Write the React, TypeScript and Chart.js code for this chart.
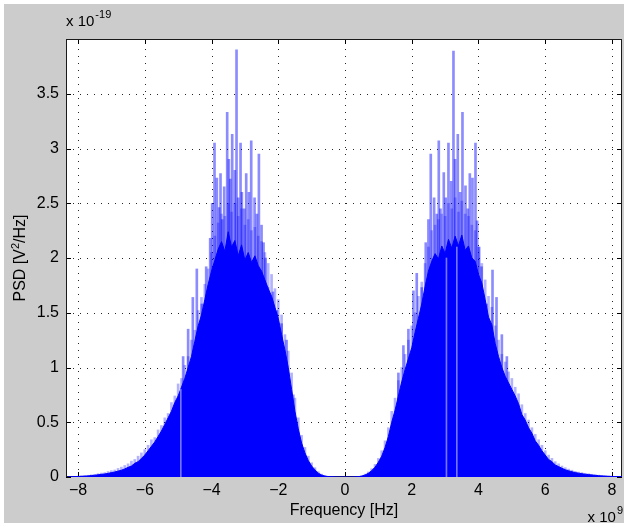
import { useEffect, useRef } from "react";
import { Chart, registerables } from "chart.js";
Chart.register(...registerables);

// Frequency grid (x 10^9 Hz)
const freqs = [
  -8.3, -8.2, -8.1, -8.0, -7.9, -7.8, -7.7, -7.6, -7.5, -7.4,
  -7.3, -7.2, -7.1, -7.0, -6.9, -6.8, -6.7, -6.6, -6.5, -6.4,
  -6.3, -6.2, -6.1, -6.0, -5.9, -5.8, -5.7, -5.6, -5.5, -5.4,
  -5.3, -5.2, -5.1, -5.0, -4.9, -4.8, -4.7, -4.6, -4.5, -4.4,
  -4.3, -4.2, -4.1, -4.0, -3.9, -3.8, -3.7, -3.6, -3.5, -3.4,
  -3.3, -3.2, -3.1, -3.0, -2.9, -2.8, -2.7, -2.6, -2.5, -2.4,
  -2.3, -2.2, -2.1, -2.0, -1.9, -1.8, -1.7, -1.6, -1.5, -1.4,
  -1.3, -1.2, -1.1, -1.0, -0.9, -0.8, -0.7, -0.6, -0.5, -0.4,
  -0.3, -0.2, -0.1, 0.0, 0.1, 0.2, 0.3, 0.4, 0.5, 0.6,
  0.7, 0.8, 0.9, 1.0, 1.1, 1.2, 1.3, 1.4, 1.5, 1.6,
  1.7, 1.8, 1.9, 2.0, 2.1, 2.2, 2.3, 2.4, 2.5, 2.6,
  2.7, 2.8, 2.9, 3.0, 3.1, 3.2, 3.3, 3.4, 3.5, 3.6,
  3.7, 3.8, 3.9, 4.0, 4.1, 4.2, 4.3, 4.4, 4.5, 4.6,
  4.7, 4.8, 4.9, 5.0, 5.1, 5.2, 5.3, 5.4, 5.5, 5.6,
  5.7, 5.8, 5.9, 6.0, 6.1, 6.2, 6.3, 6.4, 6.5, 6.6,
  6.7, 6.8, 6.9, 7.0, 7.1, 7.2, 7.3, 7.4, 7.5, 7.6,
  7.7, 7.8, 7.9, 8.0, 8.1, 8.2, 8.3,
];

// Dense (solid) part of the PSD, x 10^-19 V^2/Hz
const coreValues = [
  0.000, 0.002, 0.003, 0.005, 0.006, 0.008, 0.010, 0.013, 0.016, 0.020,
  0.024, 0.028, 0.033, 0.040, 0.046, 0.054, 0.062, 0.074, 0.088, 0.100,
  0.125, 0.140, 0.170, 0.200, 0.240, 0.280, 0.320, 0.370, 0.420, 0.480,
  0.540, 0.600, 0.680, 0.740, 0.820, 0.900, 1.000, 1.100, 1.240, 1.380,
  1.480, 1.620, 1.760, 1.880, 1.980, 2.080, 2.150, 2.060, 2.240, 2.100,
  2.160, 2.020, 2.120, 1.980, 2.050, 1.960, 2.020, 1.930, 1.880, 1.800,
  1.720, 1.650, 1.550, 1.450, 1.300, 1.160, 1.000, 0.800, 0.600, 0.440,
  0.310, 0.220, 0.150, 0.100, 0.065, 0.035, 0.018, 0.008, 0.004, 0.002,
  0.001, 0, 0, 0, 0, 0, 0.001, 0.003, 0.008, 0.018,
  0.034, 0.058, 0.090, 0.135, 0.190, 0.270, 0.370, 0.500, 0.610, 0.740,
  0.870, 0.980, 1.080, 1.180, 1.320, 1.450, 1.580, 1.740, 1.880, 1.970,
  2.040, 1.990, 2.110, 2.040, 2.170, 2.090, 2.200, 2.110, 2.210, 2.070,
  2.110, 2.000, 1.970, 1.850, 1.770, 1.620, 1.460, 1.390, 1.220, 1.100,
  1.000, 0.920, 0.860, 0.800, 0.740, 0.670, 0.570, 0.520, 0.450, 0.400,
  0.330, 0.290, 0.240, 0.200, 0.160, 0.140, 0.110, 0.095, 0.080, 0.066,
  0.057, 0.048, 0.040, 0.035, 0.030, 0.025, 0.022, 0.018, 0.015, 0.012,
  0.010, 0.008, 0.006, 0.005, 0.004, 0.003, 0.002,
];

// Ragged upper fringe of the PSD on the same grid
const peakValues = [
  0.002, 0.004, 0.006, 0.008, 0.011, 0.013, 0.016, 0.020, 0.024, 0.030,
  0.036, 0.040, 0.050, 0.058, 0.064, 0.078, 0.090, 0.105, 0.120, 0.145,
  0.160, 0.190, 0.220, 0.250, 0.290, 0.340, 0.360, 0.430, 0.470, 0.540,
  0.580, 0.680, 0.740, 0.850, 0.900, 1.020, 1.100, 1.250, 1.340, 1.520,
  1.640, 1.760, 1.900, 2.050, 2.200, 2.320, 2.400, 2.380, 2.500, 2.420,
  2.500, 2.380, 2.450, 2.300, 2.350, 2.250, 2.280, 2.200, 2.150, 2.050,
  1.950, 1.850, 1.720, 1.620, 1.480, 1.300, 1.150, 0.950, 0.720, 0.540,
  0.380, 0.270, 0.190, 0.130, 0.085, 0.048, 0.026, 0.012, 0.006, 0.003,
  0.001, 0, 0, 0, 0, 0, 0.002, 0.005, 0.012, 0.026,
  0.046, 0.075, 0.115, 0.170, 0.240, 0.330, 0.450, 0.600, 0.720, 0.880,
  1.000, 1.120, 1.250, 1.380, 1.500, 1.650, 1.780, 1.950, 2.100, 2.250,
  2.300, 2.350, 2.400, 2.380, 2.500, 2.450, 2.550, 2.420, 2.520, 2.400,
  2.380, 2.300, 2.250, 2.100, 1.950, 1.800, 1.650, 1.550, 1.380, 1.250,
  1.120, 1.050, 0.960, 0.900, 0.820, 0.760, 0.660, 0.580, 0.520, 0.450,
  0.390, 0.340, 0.290, 0.240, 0.200, 0.170, 0.140, 0.120, 0.100, 0.085,
  0.072, 0.062, 0.052, 0.045, 0.040, 0.034, 0.030, 0.025, 0.021, 0.017,
  0.014, 0.011, 0.009, 0.007, 0.005, 0.004, 0.003,
];

// Tall isolated spikes
const spikeFreqs = [
  -4.85, -4.70, -4.56, -4.44, -4.29, -4.16, -4.04, -3.98, -3.91, -3.84,
  -3.77, -3.73, -3.68, -3.62, -3.53, -3.48, -3.44, -3.38, -3.30, -3.25,
  -3.20, -3.13, -3.09, -3.02, -2.96, -2.88, -2.81, -2.71, -2.64, -2.58,
  -2.50, -2.44, -2.38, -2.31, -2.16, -2.04, -1.90, -1.75, -1.55,
  1.60, 1.75, 1.90, 2.05, 2.15, 2.30, 2.42, 2.50, 2.57, 2.67,
  2.75, 2.81, 2.86, 2.96, 3.02, 3.10, 3.18, 3.25, 3.30, 3.38,
  3.45, 3.52, 3.61, 3.68, 3.74, 3.82, 3.91, 3.96, 4.02, 4.09,
  4.24, 4.42, 4.54, 4.70, 4.85,
];
const spikeValues = [
  1.10, 1.35, 1.64, 1.90, 1.58, 1.92, 2.18, 2.50, 3.05, 2.73,
  2.46, 2.77, 2.35, 2.65, 3.33, 2.90, 2.72, 3.13, 2.80, 3.90,
  2.55, 3.05, 2.60, 2.45, 2.77, 2.60, 3.07, 2.55, 2.40, 2.95,
  2.30, 2.14, 2.00, 1.73, 1.69, 1.52, 1.40, 1.25, 0.75,
  0.95, 1.20, 1.35, 1.70, 1.86, 1.73, 2.14, 2.35, 2.95, 2.55,
  2.40, 3.07, 2.45, 2.78, 2.55, 3.05, 2.70, 3.89, 2.90, 3.13,
  2.60, 3.33, 2.66, 2.45, 2.77, 2.73, 3.05, 2.34, 2.10, 1.92,
  1.58, 1.89, 1.64, 1.30, 1.10,
];

// Thin light notches inside the dense part
const dipFreqs = [-4.92, 3.04, 3.35];
const dipValues = [0.80, 2.00, 2.10];

const xTicks = [-8, -6, -4, -2, 0, 2, 4, 6, 8];
const yTicks = [0, 0.5, 1, 1.5, 2, 2.5, 3, 3.5];
const X_MIN = -8.36;
const X_MAX = 8.3;
const Y_MIN = 0;
const Y_MAX = 4;

const FONT = "'Liberation Sans', Arial, Helvetica, sans-serif";

function fmt(v: number): string {
  const s = String(v);
  return v < 0 ? "\u2212" + s.slice(1) : s;
}

const matlabPlugin = {
  id: "matlabAxes",
  beforeDraw(chart: any) {
    const { ctx, width, height, chartArea: a } = chart;
    ctx.save();
    ctx.fillStyle = "#ffffff";
    ctx.fillRect(0, 0, width, height);
    ctx.fillStyle = "#cccccc";
    ctx.fillRect(4, 4, width - 4, height - 4);
    ctx.fillStyle = "#ffffff";
    ctx.fillRect(a.left, a.top, a.right - a.left, a.bottom - a.top);
    ctx.restore();
  },
  beforeDatasetsDraw(chart: any) {
    const { ctx, chartArea: a } = chart;
    const x = chart.scales.x;
    const y = chart.scales.y;
    ctx.save();
    ctx.lineWidth = 1;
    ctx.strokeStyle = "rgba(0,0,0,0.85)";
    ctx.setLineDash([1, 6]);
    xTicks.forEach((v) => {
      const px = Math.round(x.getPixelForValue(v)) + 0.5;
      ctx.beginPath();
      ctx.moveTo(px, a.bottom);
      ctx.lineTo(px, a.top);
      ctx.stroke();
    });
    yTicks.forEach((v) => {
      if (v === 0) return;
      const py = Math.round(y.getPixelForValue(v)) + 0.5;
      ctx.beginPath();
      ctx.moveTo(a.left, py);
      ctx.lineTo(a.right, py);
      ctx.stroke();
    });
    ctx.setLineDash([]);
    ctx.strokeStyle = "#000000";
    const tl = 5;
    xTicks.forEach((v) => {
      const px = Math.round(x.getPixelForValue(v)) + 0.5;
      ctx.beginPath();
      ctx.moveTo(px, a.bottom);
      ctx.lineTo(px, a.bottom - tl);
      ctx.moveTo(px, a.top);
      ctx.lineTo(px, a.top + tl);
      ctx.stroke();
    });
    yTicks.forEach((v) => {
      const py = Math.round(y.getPixelForValue(v)) + 0.5;
      ctx.beginPath();
      ctx.moveTo(a.left, py);
      ctx.lineTo(a.left + tl, py);
      ctx.moveTo(a.right, py);
      ctx.lineTo(a.right - tl, py);
      ctx.stroke();
    });
    ctx.strokeStyle = "#1a1a1a";
    ctx.strokeRect(a.left + 0.5, a.top + 0.5, a.right - a.left - 1, a.bottom - a.top - 1);
    ctx.restore();
  },
  afterDraw(chart: any) {
    const { ctx, chartArea: a } = chart;
    const x = chart.scales.x;
    const y = chart.scales.y;
    ctx.save();
    ctx.fillStyle = "#000000";
    ctx.font = `16px ${FONT}`;
    // y tick labels
    ctx.textAlign = "right";
    ctx.textBaseline = "middle";
    yTicks.forEach((v) => {
      ctx.fillText(fmt(v), a.left - 7, y.getPixelForValue(v));
    });
    // x tick labels
    ctx.textAlign = "center";
    ctx.textBaseline = "top";
    xTicks.forEach((v) => {
      ctx.fillText(fmt(v), x.getPixelForValue(v), a.bottom + 6);
    });
    // x title
    ctx.textBaseline = "alphabetic";
    ctx.fillText("Frequency [Hz]", (a.left + a.right) / 2, 515);

    // exponent labels
    ctx.textAlign = "left";
    ctx.font = `15px ${FONT}`;
    const base1 = "x 10";
    ctx.fillText(base1, a.left, 26);
    const w1 = ctx.measureText(base1).width;
    ctx.font = `11px ${FONT}`;
    ctx.fillText("-19", a.left + w1 + 1, 18);

    ctx.font = `15px ${FONT}`;
    const w2 = ctx.measureText(base1).width;
    ctx.font = `11px ${FONT}`;
    const w3 = ctx.measureText("9").width;
    const startX = 623 - w3 - w2 - 1;
    ctx.font = `15px ${FONT}`;
    ctx.fillText(base1, startX, 522);
    ctx.font = `11px ${FONT}`;
    ctx.fillText("9", startX + w2 + 1, 514);

    // y title with superscript
    ctx.save();
    ctx.translate(21, (a.top + a.bottom) / 2);
    ctx.rotate(-Math.PI / 2);
    ctx.textBaseline = "middle";
    ctx.font = `16px ${FONT}`;
    const p1 = "PSD [V";
    const p3 = "/Hz]";
    const wp1 = ctx.measureText(p1).width;
    const wp3 = ctx.measureText(p3).width;
    ctx.font = `11px ${FONT}`;
    const wp2 = ctx.measureText("2").width;
    const total = wp1 + wp2 + wp3;
    let cx = -total / 2;
    ctx.font = `16px ${FONT}`;
    ctx.fillText(p1, cx, 0);
    cx += wp1;
    ctx.font = `11px ${FONT}`;
    ctx.fillText("2", cx, -5);
    cx += wp2;
    ctx.font = `16px ${FONT}`;
    ctx.fillText(p3, cx, 0);
    ctx.restore();

    ctx.restore();
  },
};

export default function App() {
  const ref = useRef<HTMLCanvasElement | null>(null);
  useEffect(() => {
    if (!ref.current) return;
    const core = freqs.map((f, i) => ({ x: f, y: coreValues[i] }));
    const peaks = freqs.map((f, i) => ({ x: f, y: peakValues[i] }));
    const spikes = spikeFreqs.map((f, i) => ({ x: f, y: spikeValues[i] }));
    const dips = dipFreqs.map((f, i) => ({ x: f, y: dipValues[i] }));
    const chart = new Chart(ref.current, {
      type: "line",
      data: {
        datasets: [
          {
            type: "bar",
            label: "fringe",
            data: peaks,
            backgroundColor: "rgba(0,0,255,0.3)",
            borderWidth: 0,
            barThickness: 2,
            grouped: false,
            order: 4,
          } as any,
          {
            type: "bar",
            label: "spikes",
            data: spikes,
            backgroundColor: "rgba(0,0,255,0.45)",
            borderWidth: 0,
            barThickness: 2,
            grouped: false,
            order: 3,
          } as any,
          {
            type: "line",
            label: "PSD",
            data: core,
            borderColor: "#0000ff",
            backgroundColor: "#0000ff",
            borderWidth: 1,
            pointRadius: 0,
            fill: "origin",
            tension: 0,
            order: 2,
          } as any,
          {
            type: "bar",
            label: "notches",
            data: dips,
            backgroundColor: "rgba(130,130,255,0.9)",
            borderWidth: 0,
            barThickness: 1,
            grouped: false,
            order: 1,
          } as any,
        ],
      },
      options: {
        animation: false,
        responsive: false,
        maintainAspectRatio: false,
        events: [],
        layout: { padding: { top: 39, right: 2, left: 0, bottom: 0 } },
        plugins: { legend: { display: false }, tooltip: { enabled: false } },
        scales: {
          x: {
            type: "linear",
            min: X_MIN,
            max: X_MAX,
            offset: false,
            grid: { display: false },
            border: { display: false },
            ticks: { display: false },
            afterFit(s: any) {
              s.height = 46;
            },
          },
          y: {
            type: "linear",
            min: Y_MIN,
            max: Y_MAX,
            grid: { display: false },
            border: { display: false },
            ticks: { display: false },
            afterFit(s: any) {
              s.width = 66;
            },
          },
        },
      } as any,
      plugins: [matlabPlugin],
    });
    return () => chart.destroy();
  }, []);
  return (
    <div style={{ position: "fixed", left: 0, top: 0, width: 624, height: 523 }}>
      <canvas ref={ref} width={624} height={523} style={{ display: "block" }} />
    </div>
  );
}
